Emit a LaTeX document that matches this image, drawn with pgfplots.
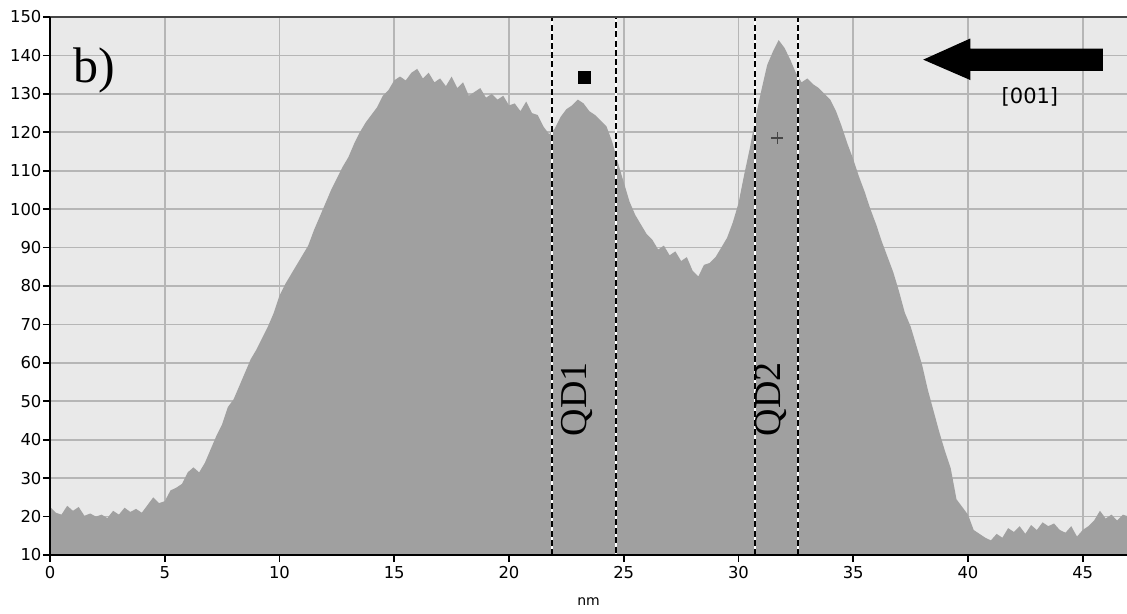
\documentclass[border=0pt]{standalone}
\usepackage{pgfplots}
\pgfplotsset{compat=1.18}
\usepackage{fontspec}
\setmainfont{DejaVu Sans}
\newfontfamily\timesfont{Liberation Serif}
\definecolor{bggray}{RGB}{233,233,233}
\definecolor{gridgray}{RGB}{182,182,182}
\definecolor{areagray}{RGB}{160,160,160}
\definecolor{topline}{RGB}{70,70,70}

\begin{document}
\begin{tikzpicture}
\begin{axis}[
  scale only axis,
  width=538.5pt, height=269pt,
  xmin=0, xmax=46.93, ymin=10, ymax=150,
  xtick={0,5,...,45}, ytick={10,20,...,150},
  tick align=outside, major tick length=3.5pt,
  tick style={black, line width=0.8pt},
  xtick pos=bottom, ytick pos=left,
  grid=major, grid style={gridgray, line width=0.9pt},
  axis background/.style={fill=bggray},
  axis line style={draw=none},
  /pgf/number format/assume math mode=true,
  tick label style={font=\fontsize{8.2}{10}\selectfont},
  yticklabel style={inner sep=0.6pt},
  xticklabel style={inner sep=1pt, yshift=-1pt},
  xlabel={nm},
  xlabel style={font=\fontsize{7}{9}\selectfont, at={(axis description cs:0.5,0)}, anchor=center, yshift=-23.5pt},
  clip=true,
]
% height profile
\addplot[fill=areagray, draw=none] coordinates {
 (0.00,22.5)(0.25,21.0)(0.50,20.5)(0.75,22.8)(1.00,21.5)(1.25,22.5)(1.50,20.2)(1.75,20.8)
 (2.00,20.0)(2.25,20.5)(2.50,19.6)(2.75,21.5)(3.00,20.5)(3.25,22.3)(3.50,21.2)(3.75,22.0)
 (4.00,21.0)(4.25,23.0)(4.50,25.0)(4.75,23.5)(5.00,24.0)(5.25,26.8)(5.50,27.5)(5.75,28.5)
 (6.00,31.5)(6.25,32.8)(6.50,31.5)(6.75,34.0)(7.00,37.5)(7.25,41.0)(7.50,44.0)(7.75,48.5)
 (8.00,50.5)(8.25,54.0)(8.50,57.5)(8.75,61.0)(9.00,63.5)(9.25,66.5)(9.50,69.5)(9.75,73.0)
 (10.00,77.5)(10.25,80.5)(10.50,83.0)(10.75,85.5)(11.00,88.0)(11.25,90.5)(11.50,94.5)(11.75,98.0)
 (12.00,101.5)(12.25,105.0)(12.50,108.0)(12.75,111.0)(13.00,113.5)(13.25,117.0)(13.50,120.0)(13.75,122.5)
 (14.00,124.5)(14.25,126.5)(14.50,129.5)(14.75,131.0)(15.00,133.5)(15.25,134.5)(15.50,133.5)(15.75,135.5)
 (16.00,136.5)(16.25,134.0)(16.50,135.5)(16.75,133.0)(17.00,134.0)(17.25,132.0)(17.50,134.5)(17.75,131.5)
 (18.00,133.0)(18.25,129.5)(18.50,130.5)(18.75,131.5)(19.00,129.0)(19.25,130.0)(19.50,128.5)(19.75,129.5)
 (20.00,127.0)(20.25,127.5)(20.50,125.5)(20.75,128.0)(21.00,125.0)(21.25,124.5)(21.50,121.5)(21.75,119.5)
 (22.00,121.0)(22.25,124.0)(22.50,126.0)(22.75,127.0)(23.00,128.5)(23.25,127.5)(23.50,125.5)(23.75,124.5)
 (24.00,123.0)(24.25,121.5)(24.50,117.5)(24.75,112.0)(25.00,107.0)(25.25,102.0)(25.50,98.5)(25.75,96.0)
 (26.00,93.5)(26.25,92.0)(26.50,89.5)(26.75,90.5)(27.00,88.0)(27.25,89.0)(27.50,86.5)(27.75,87.5)
 (28.00,84.0)(28.25,82.5)(28.50,85.5)(28.75,86.0)(29.00,87.5)(29.25,90.0)(29.50,92.5)(29.75,96.5)
 (30.00,101.5)(30.25,109.0)(30.50,116.0)(30.75,124.0)(31.00,131.0)(31.25,137.5)(31.50,141.0)(31.75,144.0)
 (32.00,142.0)(32.25,139.0)(32.50,135.5)(32.75,133.0)(33.00,134.0)(33.25,132.5)(33.50,131.5)(33.75,130.0)
 (34.00,128.5)(34.25,125.5)(34.50,121.5)(34.75,117.0)(35.00,113.0)(35.25,108.5)(35.50,104.5)(35.75,100.0)
 (36.00,96.0)(36.25,91.5)(36.50,87.5)(36.75,83.5)(37.00,78.5)(37.25,73.0)(37.50,69.5)(37.75,64.5)
 (38.00,59.5)(38.25,53.0)(38.50,47.5)(38.75,42.0)(39.00,37.0)(39.25,32.5)(39.50,24.5)(39.75,22.5)
 (40.00,20.5)(40.25,16.5)(40.50,15.5)(40.75,14.5)(41.00,13.8)(41.25,15.5)(41.50,14.5)(41.75,17.0)
 (42.00,16.0)(42.25,17.5)(42.50,15.5)(42.75,17.8)(43.00,16.5)(43.25,18.5)(43.50,17.5)(43.75,18.2)
 (44.00,16.5)(44.25,15.8)(44.50,17.5)(44.75,14.8)(45.00,16.5)(45.25,17.5)(45.50,19.0)(45.75,21.5)
 (46.00,19.5)(46.25,20.5)(46.50,19.0)(46.75,20.5)(47.00,20.0)
} \closedcycle;
% markers
\addplot[only marks, mark=square*, mark size=3pt, black] coordinates {(23.3,134.4)};
\addplot[only marks, mark=+, mark size=3pt, topline, line width=0.6pt] coordinates {(31.7,118.5)};
% QD boxes
\draw[white, line width=1.2pt] (axis cs:21.87,10) rectangle (axis cs:24.66,150);
\draw[black, line width=1.2pt, dash pattern=on 3pt off 1.6pt] (axis cs:21.87,10) rectangle (axis cs:24.66,150);
\draw[white, line width=1.2pt] (axis cs:30.72,10) rectangle (axis cs:32.59,150);
\draw[black, line width=1.2pt, dash pattern=on 3pt off 1.6pt] (axis cs:30.72,10) rectangle (axis cs:32.59,150);
\node[rotate=90, font=\timesfont\fontsize{19}{19}\selectfont] at (axis cs:22.95,50.5) {QD1};
\node[rotate=90, font=\timesfont\fontsize{19}{19}\selectfont] at (axis cs:31.4,50.5) {QD2};
% arrow
\fill[black] (axis cs:45.88,136.0) -- (axis cs:40.1,136.0) -- (axis cs:40.1,133.6)
  -- (axis cs:38.05,138.9) -- (axis cs:40.1,144.4) -- (axis cs:40.1,141.8)
  -- (axis cs:45.88,141.8) -- cycle;
\node[font=\fontsize{10.5}{12}\selectfont] at (axis cs:42.7,129.3) {[001]};
\node[font=\timesfont\fontsize{25}{25}\selectfont] at (axis cs:1.95,136.0) {b)};
\end{axis}
% frame
\draw[topline, line width=1pt] (current axis.north west) -- (current axis.north east);
\draw[black, line width=1pt] (current axis.north west) -- (current axis.south west) -- (current axis.south east);
\pgfresetboundingbox
\path ([xshift=-25pt,yshift=-29.5pt]current axis.south west) rectangle ([yshift=8.5pt]current axis.north east);
\end{tikzpicture}
\end{document}
